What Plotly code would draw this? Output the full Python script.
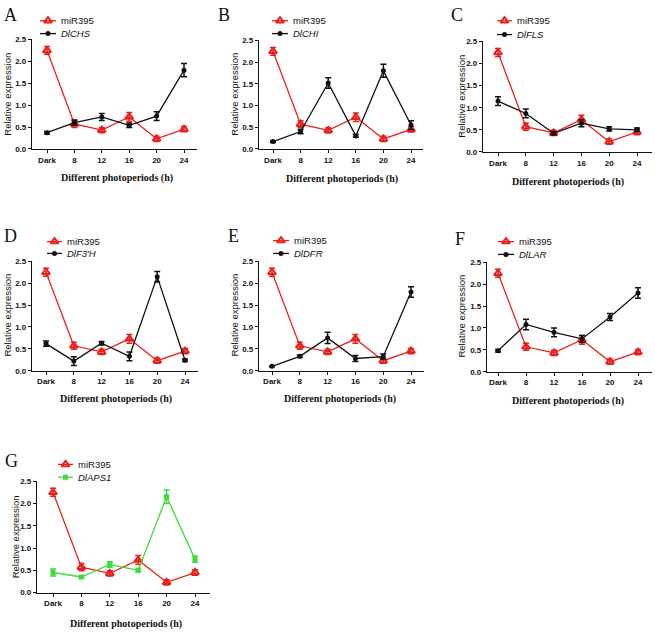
import plotly.graph_objects as go

W, H = 655, 637

categories = ["Dark", "8", "12", "16", "20", "24"]
y_ticks = [0.0, 0.5, 1.0, 1.5, 2.0, 2.5]

mir395 = [2.25, 0.57, 0.43, 0.73, 0.23, 0.45]
mir395_err = [0.09, 0.08, 0.06, 0.10, 0.06, 0.06]

chs = [0.37, 0.60, 0.73, 0.54, 0.75, 1.80]
chs_err = [0.03, 0.06, 0.08, 0.05, 0.10, 0.15]
chi = [0.17, 0.40, 1.52, 0.30, 1.80, 0.55]
chi_err = [0.02, 0.05, 0.12, 0.03, 0.15, 0.10]
fls = [1.15, 0.87, 0.42, 0.65, 0.52, 0.50]
fls_err = [0.10, 0.10, 0.04, 0.08, 0.05, 0.04]
f3h = [0.62, 0.22, 0.63, 0.33, 2.15, 0.24]
f3h_err = [0.06, 0.10, 0.04, 0.10, 0.12, 0.03]
dfr = [0.10, 0.33, 0.75, 0.28, 0.32, 1.80]
dfr_err = [0.01, 0.03, 0.13, 0.07, 0.06, 0.12]
lar = [0.48, 1.08, 0.90, 0.75, 1.25, 1.80]
lar_err = [0.03, 0.12, 0.10, 0.08, 0.08, 0.12]
aps1 = [0.45, 0.35, 0.63, 0.50, 2.15, 0.75]
aps1_err = [0.08, 0.03, 0.06, 0.04, 0.15, 0.07]

panel_letters = ["A", "B", "C", "D", "E", "F", "G"]
gene_names = ["DlCHS", "DlCHI", "DlFLS", "DlF3'H", "DlDFR", "DlLAR", "DlAPS1"]
gene_values = [chs, chi, fls, f3h, dfr, lar, aps1]
gene_errors = [chs_err, chi_err, fls_err, f3h_err, dfr_err, lar_err, aps1_err]

RED = "#e8201c"
BLACK = "#111111"
GREEN = "#3ddc3d"
gene_colors = [BLACK, BLACK, BLACK, BLACK, BLACK, BLACK, GREEN]
gene_symbols = ["circle"] * 6 + ["square"]

# layout in pixels: axis left, axis right, Dark px, 24 px, y(2.5) px, y(0) px
boxes = [
    dict(L=32, R=197, d=47, e=184, t=36, b=147, letter=(10, 11), leg=(40, 59, 17, 30), xt=(117, 176), yt=(8, 92)),
    dict(L=259, R=423, d=273, e=411, t=37, b=147, letter=(224, 11), leg=(272, 291, 17, 30), xt=(342, 178), yt=(235, 92)),
    dict(L=483, R=652, d=498, e=637, t=38, b=150, letter=(457, 11), leg=(497, 515, 17, 31), xt=(568, 181), yt=(462, 94)),
    dict(L=32, R=198, d=46, e=185, t=261, b=372, letter=(10, 235), leg=(47, 65, 241, 253), xt=(116, 401), yt=(8, 316)),
    dict(L=259, R=424, d=272, e=411, t=261, b=372, letter=(234, 235), leg=(273, 292, 240, 253), xt=(340, 401), yt=(235, 316)),
    dict(L=487, R=652, d=498, e=638, t=262, b=373, letter=(460, 238), leg=(498, 517, 241, 254), xt=(568, 403), yt=(462, 317)),
    dict(L=37, R=210, d=53, e=195, t=484, b=597, letter=(11, 464), leg=(58, 76, 467, 480), xt=(126, 629), yt=(15, 541)),
]

fig = go.Figure()
annotations = []
xs = list(range(len(categories)))

tick_font = dict(family="Liberation Sans", size=8, color="#111", weight="bold")


def ann(px, py, text, font, **kw):
    d = dict(x=px / W, y=1 - py / H, xref="paper", yref="paper", text=text, showarrow=False,
             font=font, xanchor="center", yanchor="middle")
    d.update(kw)
    return d


for i, bx in enumerate(boxes):
    n = i + 1
    xa = "x" if n == 1 else f"x{n}"
    ya = "y" if n == 1 else f"y{n}"
    sp = (bx["e"] - bx["d"]) / 5.0
    lo = -(bx["d"] - bx["L"]) / sp
    hi = 5 + (bx["R"] - bx["e"]) / sp
    axis_common = dict(showgrid=False, zeroline=False, showline=True, linecolor="#111", linewidth=1.2,
                       ticks="outside", ticklen=3, tickwidth=1.2, tickcolor="#111", tickfont=tick_font)
    fig.update_layout(**{
        ("xaxis" if n == 1 else f"xaxis{n}"): dict(
            domain=[bx["L"] / W, bx["R"] / W], range=[lo, hi], anchor=ya,
            tickmode="array", tickvals=xs, ticktext=categories, **axis_common),
        ("yaxis" if n == 1 else f"yaxis{n}"): dict(
            domain=[1 - bx["b"] / H, 1 - bx["t"] / H], range=[0, 2.5], anchor=xa,
            tickmode="array", tickvals=y_ticks, ticktext=[f"{v:.1f}" for v in y_ticks], **axis_common),
    })
    fig.add_trace(go.Scatter(
        x=xs, y=mir395, xaxis=xa, yaxis=ya, mode="lines+markers",
        line=dict(color=RED, width=1.3),
        marker=dict(symbol="triangle-up-open", size=7, color=RED, line=dict(width=2, color=RED)),
        error_y=dict(type="data", array=mir395_err, color=RED, thickness=1.5, width=3),
        showlegend=False))
    gc = gene_colors[i]
    fig.add_trace(go.Scatter(
        x=xs, y=gene_values[i], xaxis=xa, yaxis=ya, mode="lines+markers",
        line=dict(color=gc, width=1.3),
        marker=dict(symbol=gene_symbols[i], size=5, color=gc),
        error_y=dict(type="data", array=gene_errors[i], color=gc, thickness=1.5, width=3),
        showlegend=False))

    annotations.append(ann(*bx["letter"], panel_letters[i],
                           dict(family="Liberation Serif", size=18, color="#111")))
    annotations.append(ann(*bx["xt"], "<b>Different photoperiods (h)</b>",
                           dict(family="Liberation Serif", size=10, color="#111")))
    annotations.append(ann(*bx["yt"], "Relative expression",
                           dict(family="Liberation Sans", size=9.5, color="#111"), textangle=-90))
    # legend
    lx0, tx, ly1, ly2 = bx["leg"]
    lx1 = tx - 3
    for (ly, col, sym, sz, label) in [(ly1, RED, "triangle-up-open", 7, "miR395"),
                                      (ly2, gc, gene_symbols[i], 5, f"<i>{gene_names[i]}</i>")]:
        fig.add_trace(go.Scatter(
            x=[lx0, lx1], y=[ly, ly], xaxis="x8", yaxis="y8",
            mode="lines", line=dict(color=col, width=1.3), showlegend=False, hoverinfo="skip"))
        fig.add_trace(go.Scatter(
            x=[(lx0 + lx1) / 2], y=[ly], xaxis="x8", yaxis="y8", mode="markers",
            marker=dict(symbol=sym, size=sz, color=col, line=dict(width=2 if "open" in sym else 0, color=col)),
            showlegend=False, hoverinfo="skip"))
        annotations.append(ann(tx, ly, label, dict(family="Liberation Sans", size=9.5, color="#111"),
                               xanchor="left"))

fig.update_layout(
    xaxis8=dict(domain=[0, 1], range=[0, W], visible=False, fixedrange=True, anchor="y8"),
    yaxis8=dict(domain=[0, 1], range=[H, 0], visible=False, fixedrange=True, anchor="x8"),
    width=W, height=H, margin=dict(l=0, r=0, t=0, b=0),
    paper_bgcolor="white", plot_bgcolor="rgba(0,0,0,0)",
    annotations=annotations, showlegend=False,
)

fig.write_html("out.html", config={"displayModeBar": False},
               post_script="document.body.style.margin='0px';")
